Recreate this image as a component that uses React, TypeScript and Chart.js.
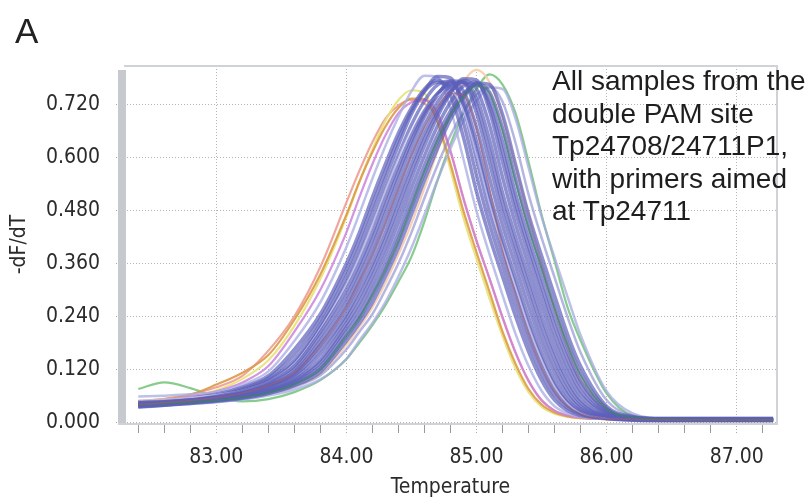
import React, { useEffect, useRef } from "react";
import { Chart, registerables } from "chart.js";

Chart.register(...registerables);

// Shared temperature grid (°C)
const temperatures = [82.4, 82.6, 82.8, 83.0, 83.2, 83.4, 83.6, 83.8, 84.0, 84.1, 84.2, 84.3, 84.4, 84.5, 84.6, 84.7, 84.8, 84.9, 85.0, 85.1, 85.2, 85.3, 85.4, 85.5, 85.6, 85.7, 85.8, 86.0, 86.2, 86.5, 87.0, 87.28];

// -dF/dT melt curves
const blue1 = [0.046, 0.049, 0.054, 0.063, 0.079, 0.105, 0.165, 0.245, 0.360, 0.430, 0.510, 0.585, 0.655, 0.712, 0.755, 0.775, 0.740, 0.645, 0.522, 0.420, 0.330, 0.240, 0.160, 0.095, 0.050, 0.026, 0.015, 0.009, 0.008, 0.008, 0.008, 0.008];
const blue1b = [0.040, 0.044, 0.050, 0.060, 0.076, 0.100, 0.153, 0.234, 0.345, 0.414, 0.492, 0.569, 0.642, 0.705, 0.750, 0.770, 0.758, 0.678, 0.559, 0.449, 0.355, 0.264, 0.180, 0.111, 0.061, 0.032, 0.018, 0.009, 0.006, 0.005, 0.005, 0.005];
const blue2 = [0.034, 0.038, 0.045, 0.057, 0.072, 0.095, 0.141, 0.222, 0.330, 0.397, 0.473, 0.552, 0.628, 0.698, 0.750, 0.783, 0.780, 0.710, 0.595, 0.478, 0.380, 0.288, 0.200, 0.127, 0.071, 0.037, 0.020, 0.008, 0.004, 0.003, 0.003, 0.003];
const blue2b = [0.038, 0.042, 0.048, 0.058, 0.071, 0.093, 0.134, 0.214, 0.315, 0.379, 0.452, 0.530, 0.605, 0.674, 0.728, 0.764, 0.773, 0.720, 0.616, 0.498, 0.399, 0.308, 0.219, 0.143, 0.083, 0.044, 0.023, 0.010, 0.007, 0.006, 0.006, 0.006];
const blue3 = [0.042, 0.045, 0.050, 0.058, 0.070, 0.090, 0.127, 0.205, 0.300, 0.360, 0.430, 0.508, 0.582, 0.650, 0.705, 0.745, 0.765, 0.730, 0.636, 0.518, 0.418, 0.328, 0.238, 0.158, 0.094, 0.050, 0.026, 0.010, 0.007, 0.007, 0.007, 0.007];
const blue3b = [0.039, 0.043, 0.048, 0.056, 0.068, 0.087, 0.121, 0.195, 0.286, 0.346, 0.414, 0.491, 0.567, 0.638, 0.699, 0.743, 0.769, 0.750, 0.668, 0.553, 0.446, 0.354, 0.263, 0.179, 0.111, 0.061, 0.031, 0.011, 0.005, 0.004, 0.004, 0.004];
const blue4 = [0.036, 0.040, 0.046, 0.054, 0.065, 0.083, 0.114, 0.184, 0.272, 0.331, 0.397, 0.473, 0.552, 0.626, 0.692, 0.740, 0.773, 0.770, 0.700, 0.587, 0.473, 0.379, 0.288, 0.200, 0.127, 0.071, 0.036, 0.012, 0.006, 0.005, 0.005, 0.005];
const blue4b = [0.040, 0.043, 0.048, 0.055, 0.065, 0.082, 0.110, 0.175, 0.259, 0.316, 0.379, 0.452, 0.531, 0.606, 0.674, 0.725, 0.762, 0.770, 0.718, 0.614, 0.497, 0.400, 0.309, 0.220, 0.144, 0.083, 0.043, 0.014, 0.008, 0.007, 0.006, 0.006];
const blue5 = [0.044, 0.046, 0.050, 0.055, 0.064, 0.080, 0.106, 0.165, 0.245, 0.300, 0.360, 0.430, 0.510, 0.585, 0.655, 0.710, 0.750, 0.770, 0.735, 0.640, 0.520, 0.420, 0.330, 0.240, 0.160, 0.095, 0.050, 0.015, 0.007, 0.004, 0.004, 0.004];
const blue5b = [0.041, 0.043, 0.047, 0.053, 0.062, 0.077, 0.101, 0.154, 0.235, 0.286, 0.346, 0.414, 0.492, 0.569, 0.641, 0.701, 0.748, 0.774, 0.755, 0.673, 0.555, 0.448, 0.355, 0.264, 0.180, 0.111, 0.061, 0.018, 0.009, 0.006, 0.006, 0.006];
const blue6 = [0.037, 0.040, 0.044, 0.050, 0.059, 0.073, 0.096, 0.142, 0.224, 0.272, 0.331, 0.397, 0.473, 0.552, 0.626, 0.692, 0.745, 0.778, 0.775, 0.705, 0.590, 0.476, 0.380, 0.288, 0.200, 0.127, 0.071, 0.020, 0.010, 0.008, 0.008, 0.008];
const blue6b = [0.039, 0.042, 0.045, 0.051, 0.059, 0.072, 0.093, 0.135, 0.215, 0.259, 0.316, 0.379, 0.452, 0.530, 0.604, 0.671, 0.725, 0.762, 0.770, 0.718, 0.613, 0.497, 0.399, 0.308, 0.219, 0.143, 0.083, 0.023, 0.008, 0.005, 0.005, 0.005];
const blue7 = [0.041, 0.043, 0.046, 0.051, 0.058, 0.070, 0.090, 0.127, 0.205, 0.245, 0.300, 0.360, 0.430, 0.508, 0.582, 0.650, 0.705, 0.745, 0.765, 0.730, 0.636, 0.518, 0.418, 0.328, 0.238, 0.158, 0.094, 0.026, 0.010, 0.006, 0.006, 0.006];
const blue7b = [0.038, 0.041, 0.044, 0.049, 0.056, 0.068, 0.087, 0.121, 0.195, 0.235, 0.286, 0.345, 0.413, 0.489, 0.565, 0.635, 0.696, 0.740, 0.767, 0.748, 0.667, 0.551, 0.445, 0.353, 0.263, 0.179, 0.111, 0.031, 0.011, 0.007, 0.007, 0.007];
const blue8 = [0.035, 0.038, 0.042, 0.047, 0.054, 0.065, 0.083, 0.114, 0.184, 0.224, 0.271, 0.330, 0.395, 0.470, 0.548, 0.620, 0.686, 0.735, 0.768, 0.765, 0.697, 0.584, 0.471, 0.377, 0.287, 0.199, 0.127, 0.036, 0.012, 0.005, 0.004, 0.004];
const blue9 = [0.039, 0.041, 0.044, 0.048, 0.054, 0.064, 0.080, 0.106, 0.165, 0.205, 0.245, 0.300, 0.360, 0.430, 0.508, 0.582, 0.650, 0.703, 0.742, 0.760, 0.726, 0.633, 0.516, 0.418, 0.328, 0.238, 0.158, 0.050, 0.015, 0.007, 0.006, 0.006];
const lavender1 = [0.058, 0.060, 0.063, 0.069, 0.085, 0.115, 0.184, 0.272, 0.397, 0.473, 0.552, 0.626, 0.692, 0.750, 0.785, 0.782, 0.710, 0.595, 0.478, 0.380, 0.288, 0.200, 0.127, 0.071, 0.036, 0.020, 0.012, 0.007, 0.006, 0.005, 0.005, 0.005];
const lavender2 = [0.036, 0.038, 0.041, 0.045, 0.051, 0.060, 0.074, 0.097, 0.143, 0.185, 0.225, 0.272, 0.330, 0.395, 0.470, 0.548, 0.620, 0.683, 0.728, 0.758, 0.755, 0.688, 0.577, 0.466, 0.373, 0.284, 0.197, 0.070, 0.020, 0.007, 0.005, 0.005];
const lavender3 = [0.050, 0.052, 0.056, 0.062, 0.072, 0.092, 0.132, 0.212, 0.312, 0.375, 0.448, 0.525, 0.598, 0.662, 0.710, 0.740, 0.750, 0.705, 0.605, 0.492, 0.395, 0.305, 0.215, 0.140, 0.080, 0.042, 0.022, 0.009, 0.007, 0.006, 0.005, 0.005];
const orange = [0.048, 0.052, 0.062, 0.085, 0.112, 0.152, 0.232, 0.335, 0.470, 0.545, 0.612, 0.670, 0.712, 0.733, 0.732, 0.680, 0.585, 0.478, 0.385, 0.295, 0.205, 0.132, 0.075, 0.040, 0.022, 0.013, 0.009, 0.007, 0.006, 0.005, 0.005, 0.005];
const salmon = [0.047, 0.053, 0.063, 0.079, 0.105, 0.162, 0.240, 0.352, 0.498, 0.570, 0.635, 0.688, 0.718, 0.730, 0.722, 0.690, 0.612, 0.508, 0.412, 0.325, 0.236, 0.157, 0.093, 0.049, 0.026, 0.015, 0.010, 0.007, 0.006, 0.005, 0.005, 0.005];
const yellow = [0.045, 0.050, 0.057, 0.072, 0.098, 0.140, 0.218, 0.325, 0.465, 0.545, 0.618, 0.683, 0.730, 0.752, 0.745, 0.680, 0.572, 0.462, 0.370, 0.280, 0.195, 0.122, 0.068, 0.035, 0.019, 0.012, 0.009, 0.007, 0.006, 0.005, 0.005, 0.005];
const violet = [0.045, 0.050, 0.058, 0.070, 0.090, 0.127, 0.205, 0.300, 0.430, 0.510, 0.585, 0.650, 0.700, 0.725, 0.730, 0.700, 0.615, 0.505, 0.410, 0.325, 0.238, 0.158, 0.094, 0.050, 0.026, 0.015, 0.010, 0.007, 0.006, 0.005, 0.005, 0.005];
const peach = [0.036, 0.039, 0.043, 0.047, 0.054, 0.064, 0.081, 0.110, 0.175, 0.215, 0.260, 0.315, 0.380, 0.450, 0.530, 0.615, 0.700, 0.770, 0.798, 0.770, 0.690, 0.580, 0.470, 0.360, 0.255, 0.165, 0.095, 0.025, 0.010, 0.006, 0.005, 0.005];
const green = [0.075, 0.090, 0.077, 0.057, 0.047, 0.052, 0.068, 0.095, 0.143, 0.180, 0.220, 0.265, 0.318, 0.375, 0.455, 0.548, 0.630, 0.700, 0.755, 0.788, 0.765, 0.700, 0.590, 0.470, 0.365, 0.260, 0.185, 0.065, 0.015, 0.007, 0.005, 0.005];
const darkGreen = [0.040, 0.042, 0.045, 0.049, 0.056, 0.067, 0.086, 0.120, 0.195, 0.236, 0.288, 0.345, 0.410, 0.490, 0.568, 0.638, 0.695, 0.738, 0.762, 0.745, 0.660, 0.545, 0.440, 0.348, 0.257, 0.175, 0.106, 0.030, 0.011, 0.006, 0.005, 0.005];
const redBrown = [0.040, 0.044, 0.049, 0.056, 0.066, 0.083, 0.112, 0.175, 0.260, 0.318, 0.380, 0.452, 0.530, 0.605, 0.668, 0.715, 0.745, 0.740, 0.665, 0.530, 0.390, 0.290, 0.200, 0.125, 0.070, 0.036, 0.018, 0.008, 0.006, 0.005, 0.005, 0.005];

// Axis settings
const xMin = 82.29;
const xMax = 87.31;
const xStep = 0.2;
const yMin = -0.002;
const yMax = 0.807;
const yStep = 0.12;

const annotationLines = ["All samples from the", "double PAM site", "Tp24708/24711P1,", "with primers aimed", "at Tp24711"];

// Styles (first entry is drawn on top)
const BLUE = "rgba(92,95,186,0.7)";
const BW = 3.5;
const series = [
  { values: redBrown, color: "rgba(176,92,92,0.5)", width: 1.5 },
  { values: darkGreen, color: "rgba(50,140,80,0.6)", width: 1.8 },
  { values: blue5, color: BLUE, width: BW },
  { values: blue4b, color: BLUE, width: BW },
  { values: blue3, color: BLUE, width: BW },
  { values: blue5b, color: BLUE, width: BW },
  { values: lavender3, color: "rgba(225,225,246,0.6)", width: 1.6 },
  { values: blue6, color: BLUE, width: BW },
  { values: blue3b, color: BLUE, width: BW },
  { values: blue4, color: BLUE, width: BW },
  { values: blue6b, color: BLUE, width: BW },
  { values: blue7, color: BLUE, width: BW },
  { values: blue2b, color: BLUE, width: BW },
  { values: blue2, color: BLUE, width: BW },
  { values: blue7b, color: BLUE, width: BW },
  { values: blue8, color: BLUE, width: BW },
  { values: blue1b, color: BLUE, width: BW },
  { values: blue1, color: BLUE, width: BW },
  { values: blue9, color: "rgba(130,134,205,0.6)", width: 2.5 },
  { values: lavender1, color: "rgba(172,176,228,0.8)", width: 2.5 },
  { values: lavender2, color: "rgba(165,170,224,0.75)", width: 2.5 },
  { values: violet, color: "rgba(206,128,222,0.85)", width: 2.2 },
  { values: orange, color: "rgba(220,154,72,0.9)", width: 2.2 },
  { values: yellow, color: "rgba(232,226,118,0.9)", width: 2.2 },
  { values: salmon, color: "rgba(238,150,140,0.85)", width: 2.2 },
  { values: peach, color: "rgba(248,204,170,0.9)", width: 2.2 },
  { values: green, color: "rgba(122,198,128,0.9)", width: 2.2 },
];

const AXIS_FONT = '"DejaVu Sans Condensed", "Liberation Sans Narrow", "DejaVu Sans", sans-serif';
const isMajor = (v: number) => Math.abs(v - Math.round(v)) < 1e-6;

const framePlugin = {
  id: "frame",
  beforeDatasetsDraw(chart: any) {
    const { ctx, chartArea: a } = chart;
    ctx.save();
    ctx.fillStyle = "#c6cacf";
    ctx.fillRect(a.left - 6, a.top + 4, 8, a.bottom - a.top - 3);
    ctx.strokeStyle = "#cfd3d8";
    ctx.lineWidth = 2;
    ctx.beginPath();
    ctx.moveTo(a.left, a.top);
    ctx.lineTo(a.right, a.top);
    ctx.lineTo(a.right, a.bottom);
    ctx.stroke();
    ctx.beginPath();
    ctx.moveTo(a.left - 6, a.bottom + 1);
    ctx.lineTo(a.right + 1, a.bottom + 1);
    ctx.stroke();
    ctx.restore();
  },
};

export default function App() {
  const canvasRef = useRef<HTMLCanvasElement | null>(null);

  useEffect(() => {
    if (!canvasRef.current) return;
    const chart = new Chart(canvasRef.current, {
      type: "line",
      data: {
        datasets: series.map((s, k) => ({
          label: `Sample ${k + 1}`,
          data: temperatures.map((t, i) => ({ x: t, y: s.values[i] })),
          borderColor: s.color,
          borderWidth: s.width,
          pointRadius: 0,
          fill: false,
          clip: 4,
          cubicInterpolationMode: "monotone" as const,
        })),
      },
      options: {
        animation: false,
        responsive: false,
        devicePixelRatio: 1,
        layout: { padding: { left: 0, top: 66, right: 35, bottom: 0 } },
        plugins: { legend: { display: false }, tooltip: { enabled: false } },
        scales: {
          x: {
            type: "linear",
            min: xMin,
            max: xMax,
            afterFit: (s: any) => { s.height = 77; },
            ticks: {
              stepSize: xStep,
              includeBounds: false,
              autoSkip: false,
              maxRotation: 0,
              padding: 12,
              color: "#2b2b2b",
              font: { family: AXIS_FONT, size: 21 },
              callback: (v: any) => (isMajor(Number(v)) ? Number(v).toFixed(2) : ""),
            },
            grid: {
              color: (c: any) => (c.tick && isMajor(c.tick.value) ? "#b4b4b4" : "rgba(0,0,0,0)"),
              lineWidth: 1,
              tickLength: 10,
              tickColor: (c: any) => (c.tick && isMajor(c.tick.value) ? "#a8a8a8" : "#9a9a9a"),
              tickBorderDash: (c: any) => (c.tick && isMajor(c.tick.value) ? [1, 2] : []),
            },
            border: { display: false, dash: [1, 2] },
            title: {
              display: true,
              text: "Temperature",
              color: "#2b2b2b",
              font: { family: AXIS_FONT, size: 21 },
              padding: { top: 0, bottom: 0 },
            },
          },
          y: {
            type: "linear",
            min: yMin,
            max: yMax,
            afterFit: (s: any) => { s.width = 124; },
            ticks: {
              stepSize: yStep,
              includeBounds: false,
              padding: 16,
              color: "#2b2b2b",
              font: { family: AXIS_FONT, size: 21 },
              callback: (v: any) => Number(v).toFixed(3),
            },
            grid: {
              color: "#b4b4b4",
              lineWidth: 1,
              tickLength: 8,
              tickColor: "#a8a8a8",
              tickBorderDash: [1, 2],
            },
            border: { display: false, dash: [1, 2] },
            title: {
              display: true,
              text: "-dF/dT",
              color: "#2b2b2b",
              font: { family: AXIS_FONT, size: 21 },
              padding: { top: 7, bottom: 0 },
            },
          },
        },
      },
      plugins: [framePlugin],
    });
    return () => chart.destroy();
  }, []);

  return (
    <div style={{ position: "absolute", left: 0, top: 0, width: 812, height: 500, background: "#fff", overflow: "hidden" }}>
      <canvas ref={canvasRef} width={812} height={500} style={{ position: "absolute", left: 0, top: 0, width: 812, height: 500 }} />
      <div style={{ position: "absolute", left: 15, top: 13, fontFamily: '"Liberation Sans", Arial, sans-serif', fontSize: 35, lineHeight: "35px", color: "#222" }}>A</div>
      <div style={{ position: "absolute", left: 552, top: 65, fontFamily: '"Liberation Sans", Arial, sans-serif', fontSize: 28, lineHeight: "32.5px", color: "#1e1e1e", whiteSpace: "pre" }}>
        {annotationLines.map((l) => (
          <div key={l}>{l}</div>
        ))}
      </div>
    </div>
  );
}
